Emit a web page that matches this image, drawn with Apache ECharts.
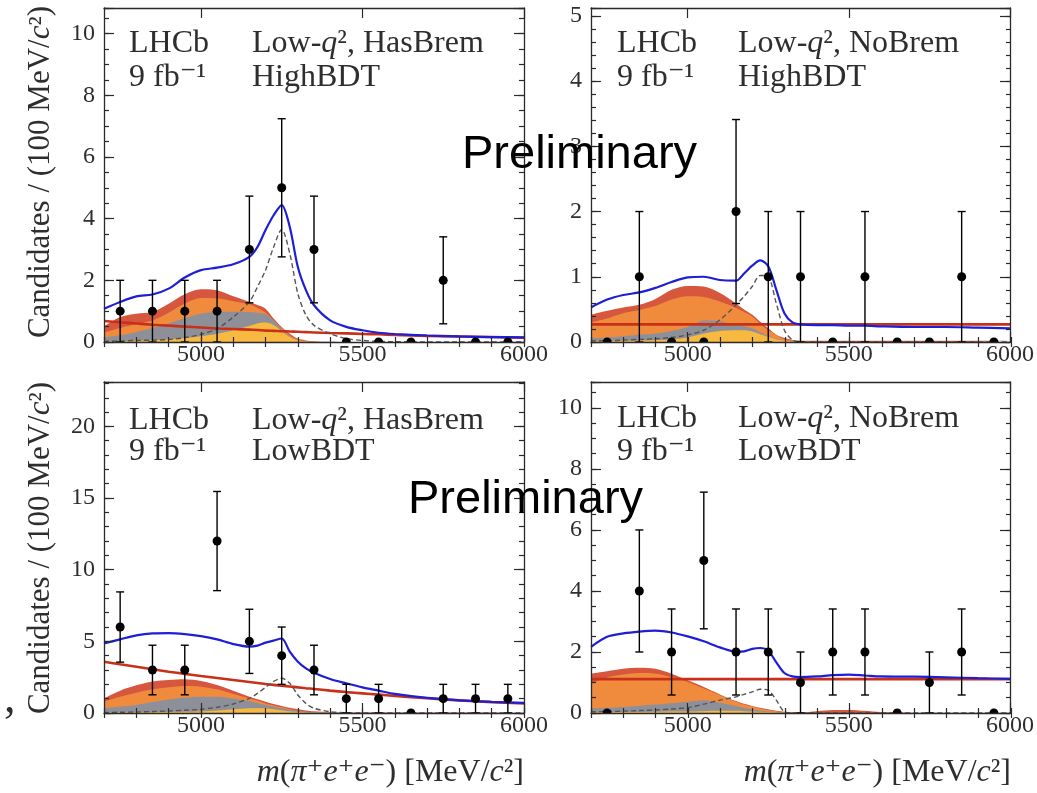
<!DOCTYPE html>
<html><head><meta charset="utf-8">
<script src="https://cdn.jsdelivr.net/npm/echarts@6/dist/echarts.min.js"></script>
<style>html,body{margin:0;padding:0;background:#fff}#c{width:1037px;height:793px}</style>
</head><body><div id="c"></div>
<script>
// ---------------- data ----------------
const binCenters = [4750,4850,4950,5050,5150,5250,5350,5450,5550,5650,5750,5850,5950];
const xTickLabels = [5000,5500,6000];

const tlCounts = [1,1,1,1,3,5,3,0,0,0,2,0,0];
const tlErr    = [1,1,1,1,1.73,2.24,1.73,0,0,0,1.41,0,0];
const trCounts = [0,1,0,0,2,1,1,0,1,0,0,1,0];
const trErr    = [0,1,0,0,1.41,1,1,0,1,0,0,1,0];
const blCounts = [6,3,3,12,5,4,3,1,1,0,1,1,1];
const blErr    = [2.45,1.73,1.73,3.46,2.24,2,1.73,1,1,0,1,1,1];
const brCounts = [0,4,2,5,2,2,1,2,2,0,1,2,0];
const brErr    = [0,2,1.41,2.24,1.41,1.41,1,1.41,1.41,0,1,1.41,0];

const curveX = [4700,4750,4800,4850,4900,4950,5000,5050,5100,5150,5175,5200,5225,5250,5275,5300,5325,5350,5400,5450,5500,5550,5600,5700,5800,5900,6000];

// top-left: Low-q2 HasBrem HighBDT
const tlTotal  = [1.08,1.30,1.48,1.54,1.73,2.09,2.33,2.41,2.52,2.76,3.08,3.63,4.11,4.44,3.73,2.43,1.68,1.19,0.70,0.49,0.38,0.30,0.26,0.21,0.18,0.16,0.15];
const tlComb   = [0.68,0.64,0.60,0.56,0.53,0.50,0.47,0.44,0.42,0.40,0.39,0.37,0.36,0.35,0.34,0.33,0.32,0.31,0.29,0.28,0.26,0.25,0.23,0.20,0.18,0.16,0.14];
const tlSignal = [0.02,0.03,0.05,0.06,0.08,0.14,0.25,0.43,0.81,1.30,1.79,2.33,3.08,3.65,2.87,1.57,0.87,0.54,0.27,0.11,0.05,0.02,0.01,0,0,0,0];
const tlYellowTop = [0.02,0.03,0.04,0.06,0.09,0.13,0.19,0.27,0.38,0.52,0.60,0.63,0.55,0.36,0.16,0.05,0.02,0.01,0,0,0,0,0,0,0,0,0];
const tlGrayTop   = [0.15,0.22,0.32,0.45,0.60,0.78,0.92,0.97,0.98,0.97,0.95,0.90,0.70,0.42,0.18,0.06,0.02,0.01,0,0,0,0,0,0,0,0,0];
const tlOrangeTop = [0.30,0.45,0.58,0.70,0.95,1.25,1.43,1.42,1.32,1.22,1.10,0.95,0.70,0.45,0.21,0.08,0.03,0.01,0,0,0,0,0,0,0,0,0];
const tlDarkTop   = [0.50,0.81,0.92,0.97,1.24,1.55,1.71,1.68,1.48,1.30,1.20,1.08,0.76,0.49,0.27,0.11,0.05,0.02,0.01,0,0,0,0,0,0,0,0];

// top-right: Low-q2 NoBrem HighBDT
const trTotal  = [0.53,0.65,0.72,0.76,0.83,0.92,0.99,1.00,0.95,0.94,1.05,1.17,1.25,1.16,0.80,0.44,0.30,0.27,0.26,0.26,0.25,0.25,0.24,0.23,0.23,0.22,0.21];
const trComb   = [0.27,0.27,0.27,0.27,0.27,0.27,0.27,0.27,0.27,0.27,0.27,0.27,0.27,0.27,0.27,0.27,0.27,0.27,0.27,0.27,0.27,0.27,0.27,0.27,0.27,0.27,0.27];
const trSignal = [0.02,0.02,0.03,0.04,0.05,0.07,0.11,0.18,0.34,0.57,0.70,0.85,1.02,1.00,0.59,0.18,0.03,0,0,0,0,0,0,0,0,0,0];
const trYellowTop = [0.02,0.02,0.02,0.02,0.03,0.04,0.07,0.13,0.17,0.18,0.18,0.16,0.12,0.08,0.04,0.02,0.01,0,0,0,0,0,0,0,0,0,0];
const trGrayTop   = [0.06,0.07,0.09,0.11,0.13,0.17,0.23,0.33,0.32,0.26,0.24,0.21,0.15,0.09,0.05,0.02,0.01,0,0,0,0,0,0,0,0,0,0];
const trOrangeTop = [0.30,0.36,0.44,0.49,0.55,0.65,0.70,0.69,0.62,0.52,0.46,0.39,0.28,0.18,0.11,0.04,0.02,0.01,0,0,0,0,0,0,0,0,0];
const trDarkTop   = [0.42,0.48,0.53,0.57,0.66,0.80,0.86,0.85,0.75,0.59,0.50,0.42,0.31,0.21,0.11,0.06,0.03,0.02,0.02,0.02,0.02,0.02,0.02,0.02,0.02,0.02,0.02];

// bottom-left: Low-q2 HasBrem LowBDT
const blTotal  = [4.86,5.14,5.42,5.56,5.58,5.51,5.37,5.14,4.81,4.63,4.70,4.91,5.05,5.20,4.28,3.58,3.12,2.81,2.37,2.07,1.79,1.56,1.33,1.05,0.88,0.78,0.70];
const blComb   = [3.58,3.40,3.23,3.05,2.88,2.73,2.58,2.44,2.30,2.16,2.09,2.02,1.96,1.90,1.85,1.79,1.73,1.68,1.56,1.46,1.37,1.28,1.19,1.03,0.88,0.76,0.66];
const blSignal = [0.04,0.05,0.07,0.10,0.14,0.19,0.26,0.40,0.63,1.02,1.37,1.79,2.20,2.42,2.07,1.26,0.67,0.33,0.09,0.02,0,0,0,0,0,0,0];
const blYellowTop = [0.05,0.05,0.05,0.06,0.07,0.08,0.10,0.17,0.26,0.33,0.34,0.33,0.27,0.20,0.12,0.07,0.04,0.02,0.01,0,0,0,0,0,0,0,0];
const blGrayTop   = [0.33,0.45,0.56,0.76,0.95,1.07,1.14,1.14,1.02,0.84,0.70,0.56,0.44,0.33,0.22,0.14,0.08,0.05,0.01,0,0,0,0,0,0,0,0];
const blOrangeTop = [0.79,1.14,1.42,1.65,1.79,1.88,1.84,1.65,1.33,1.02,0.85,0.67,0.53,0.40,0.26,0.14,0.08,0.05,0.02,0,0,0,0,0,0,0,0];
const blDarkTop   = [1.02,1.56,1.93,2.19,2.30,2.35,2.23,1.95,1.56,1.14,0.96,0.79,0.63,0.49,0.36,0.26,0.18,0.12,0.06,0.04,0.04,0.04,0.04,0.03,0.03,0.03,0.03];

// bottom-right: Low-q2 NoBrem LowBDT
const brTotal  = [2.17,2.50,2.61,2.67,2.70,2.64,2.51,2.35,2.15,2.01,2.02,2.10,2.13,2.04,1.66,1.31,1.20,1.18,1.20,1.24,1.26,1.23,1.20,1.19,1.17,1.14,1.12];
const brComb   = [1.11,1.11,1.11,1.11,1.11,1.11,1.11,1.11,1.11,1.11,1.11,1.11,1.11,1.11,1.11,1.11,1.11,1.11,1.11,1.11,1.11,1.11,1.11,1.11,1.11,1.11,1.11];
const brSignal = [0.04,0.05,0.06,0.08,0.10,0.13,0.18,0.29,0.42,0.53,0.61,0.69,0.78,0.75,0.42,0.04,0,0,0,0,0,0,0,0,0,0,0];
const brYellowTop = [0.03,0.03,0.03,0.03,0.04,0.05,0.05,0.06,0.07,0.07,0.06,0.05,0.04,0.03,0.02,0.01,0,0,0,0,0,0,0,0,0,0,0];
const brGrayTop   = [0.15,0.17,0.20,0.24,0.28,0.32,0.37,0.42,0.34,0.23,0.17,0.12,0.08,0.05,0.03,0.01,0,0,0,0,0,0,0,0,0,0,0];
const brOrangeTop = [0.96,1.16,1.26,1.31,1.29,1.18,1.02,0.80,0.58,0.37,0.28,0.21,0.15,0.10,0.06,0.03,0.01,0,0,0,0,0,0,0,0,0,0];
const brDarkTop   = [1.29,1.37,1.45,1.48,1.45,1.29,1.07,0.85,0.61,0.39,0.30,0.23,0.17,0.12,0.07,0.04,0.03,0.02,0.06,0.10,0.10,0.07,0.03,0.01,0.01,0.01,0.01];

// ---------------- styling ----------------
const SERIF = '"Liberation Serif", "DejaVu Serif", serif';
const SANS = '"Liberation Sans", Arial, sans-serif';
const TXT = '#2e2e2e';
const FRAME = '#2a2a2a';
const COL = {dark:'#d6573d', orange:'#f08b3d', gray:'#8e9099', yellow:'#f8b940', comb:'#c9301a', total:'#1e1ed6', sig:'#555555', data:'#000000'};

const panels = [
  {rect:{left:104, top:8,   width:420, height:334}, ymax:10.83, major:2, minor:0.5,
   counts:tlCounts, errs:tlErr, total:tlTotal, comb:tlComb, sig:tlSignal, yellow:tlYellowTop, gray:tlGrayTop, orange:tlOrangeTop, dark:tlDarkTop},
  {rect:{left:591, top:8,   width:420, height:334}, ymax:5.12, major:1, minor:0.2,
   counts:trCounts, errs:trErr, total:trTotal, comb:trComb, sig:trSignal, yellow:trYellowTop, gray:trGrayTop, orange:trOrangeTop, dark:trDarkTop},
  {rect:{left:104, top:382, width:420, height:331}, ymax:23.1, major:5, minor:1,
   counts:blCounts, errs:blErr, total:blTotal, comb:blComb, sig:blSignal, yellow:blYellowTop, gray:blGrayTop, orange:blOrangeTop, dark:blDarkTop},
  {rect:{left:591, top:382, width:420, height:331}, ymax:10.85, major:2, minor:0.5,
   counts:brCounts, errs:brErr, total:brTotal, comb:brComb, sig:brSignal, yellow:brYellowTop, gray:brGrayTop, orange:brOrangeTop, dark:brDarkTop}
];

const grids = [], xAxes = [], yAxes = [], series = [];
const isMult = (v, m) => Math.abs(v / m - Math.round(v / m)) < 1e-6;
const pts = arr => curveX.map((x, i) => [x, arr[i]]);

// data point with symmetric error bar, clipped to the plot frame
function pointRender(params, api) {
  const x = api.value(0), y = api.value(1), e = api.value(2);
  const c = api.coord([x, y]);
  const st = {stroke: COL.data, lineWidth: 1.4};
  const kids = [];
  if (e > 0) {
    const lo = api.coord([x, y - e]), hi = api.coord([x, y + e]);
    const cap = 4;
    kids.push(
      {type:'line', shape:{x1:lo[0], y1:lo[1], x2:hi[0], y2:hi[1]}, style:st},
      {type:'line', shape:{x1:hi[0]-cap, y1:hi[1], x2:hi[0]+cap, y2:hi[1]}, style:st},
      {type:'line', shape:{x1:lo[0]-cap, y1:lo[1], x2:lo[0]+cap, y2:lo[1]}, style:st});
  }
  kids.push({type:'circle', shape:{cx:c[0], cy:c[1], r:4.5}, style:{fill: COL.data}});
  return {type:'group', children:kids};
}

panels.forEach((p, i) => {
  const gA = 2*i, gB = 2*i + 1;
  grids.push(Object.assign({show:false}, p.rect));
  grids.push(Object.assign({show:false}, p.rect));
  const lineSt = {color: FRAME, width: 1.3};
  const tickSt = {color: FRAME, width: 1.2};
  const xBase = {type:'value', min:4700, max:6000, interval:100, z:10, splitLine:{show:false}};
  xAxes.push(
    Object.assign({}, xBase, {gridIndex:gA, position:'bottom',
      axisLine:{show:true, onZero:false, lineStyle:lineSt},
      axisTick:{show:true, inside:true, length:10, customValues:xTickLabels, lineStyle:tickSt},
      axisLabel:{show:true, customValues:xTickLabels, margin:1, fontSize:24, fontFamily:SERIF, color:TXT,
        formatter: v => (isMult(v, 500) ? String(v) : '')}}),
    Object.assign({}, xBase, {gridIndex:gA, position:'top',
      axisLine:{show:true, onZero:false, lineStyle:lineSt},
      axisTick:{show:true, inside:true, length:10, customValues:xTickLabels, lineStyle:tickSt},
      axisLabel:{show:false}}),
    Object.assign({}, xBase, {gridIndex:gB, position:'bottom',
      axisLine:{show:false}, axisTick:{show:true, inside:true, length:5, lineStyle:tickSt}, axisLabel:{show:false}}),
    Object.assign({}, xBase, {gridIndex:gB, position:'top',
      axisLine:{show:false}, axisTick:{show:true, inside:true, length:5, lineStyle:tickSt}, axisLabel:{show:false}})
  );
  const yBase = {type:'value', min:0, max:p.ymax, z:10, splitLine:{show:false}};
  yAxes.push(
    Object.assign({}, yBase, {gridIndex:gA, position:'left', interval:p.major,
      axisLine:{show:true, onZero:false, lineStyle:lineSt},
      axisTick:{show:true, inside:true, length:10, lineStyle:tickSt},
      axisLabel:{show:true, margin:9, fontSize:24, fontFamily:SERIF, color:TXT,
        formatter: v => (isMult(v, p.major) ? String(Math.round(v)) : '')}}),
    Object.assign({}, yBase, {gridIndex:gA, position:'right', interval:p.major,
      axisLine:{show:true, onZero:false, lineStyle:lineSt},
      axisTick:{show:true, inside:true, length:10, lineStyle:tickSt}, axisLabel:{show:false}}),
    Object.assign({}, yBase, {gridIndex:gB, position:'left', interval:p.minor,
      axisLine:{show:false}, axisTick:{show:true, inside:true, length:5, lineStyle:tickSt}, axisLabel:{show:false}}),
    Object.assign({}, yBase, {gridIndex:gB, position:'right', interval:p.minor,
      axisLine:{show:false}, axisTick:{show:true, inside:true, length:5, lineStyle:tickSt}, axisLabel:{show:false}})
  );
  const ax = {xAxisIndex: 4*i, yAxisIndex: 4*i};
  const area = (arr, c) => Object.assign({type:'line', data:pts(arr), smooth:0.3, symbol:'none',
    lineStyle:{width:0, color:c}, areaStyle:{color:c, opacity:1}, silent:true, z:2}, ax);
  const curve = (arr, c, w, dash) => Object.assign({type:'line', data:pts(arr), smooth:0.3, symbol:'none',
    lineStyle:{width:w, color:c, type: dash ? [5,3] : 'solid'}, silent:true, z:3}, ax);
  series.push(
    area(p.dark, COL.dark), area(p.orange, COL.orange), area(p.gray, COL.gray), area(p.yellow, COL.yellow),
    curve(p.comb, COL.comb, 2.6, false),
    curve(p.sig, COL.sig, 1.4, true),
    curve(p.total, COL.total, 2.2, false),
    Object.assign({type:'custom', renderItem:pointRender, clip:true,
      data:binCenters.map((x, k) => [x, p.counts[k], p.errs[k]]), z:5, silent:true}, ax)
  );
});

// ---------------- texts ----------------
const richIt = size => ({i:{fontStyle:'italic', fontSize:size, fontFamily:SERIF, fill:TXT}});
function txt(x, y, text, size, opts) {
  return Object.assign({type:'text', x:x, y:y, z:100, silent:true,
    style:{text:text, fontSize:size, fontFamily:SERIF, fill:TXT, align:'left', verticalAlign:'middle', rich:richIt(size)}}, opts || {});
}
const panelTexts = [
  {x1:129, x2:252, y1:44,  y2:78,  a:'Low-{i|q}², HasBrem', b:'HighBDT'},
  {x1:617, x2:738, y1:44,  y2:78,  a:'Low-{i|q}², NoBrem',  b:'HighBDT'},
  {x1:129, x2:252, y1:421, y2:452, a:'Low-{i|q}², HasBrem', b:'LowBDT'},
  {x1:617, x2:738, y1:419, y2:452, a:'Low-{i|q}², NoBrem',  b:'LowBDT'}
];
const graphic = [];
panelTexts.forEach(t => {
  graphic.push(txt(t.x1, t.y1, 'LHCb', 32), txt(t.x2, t.y1, t.a, 32), txt(t.x1, t.y2, '9 fb⁻¹', 32), txt(t.x2, t.y2, t.b, 32));
});
const yTitle = 'Candidates / (100 MeV/{i|c}²)';
const yt1 = txt(41, 172, yTitle, 31); yt1.rotation = Math.PI/2; yt1.style.align = 'center';
const yt2 = txt(41, 548, yTitle, 31); yt2.rotation = Math.PI/2; yt2.style.align = 'center';
graphic.push(yt1, yt2);
const xTitle = '{i|m}({i|π}⁺{i|e}⁺{i|e}⁻) [MeV/{i|c}²]';
const xt1 = txt(524, 773, xTitle, 32); xt1.style.align = 'right';
const xt2 = txt(1011, 773, xTitle, 32); xt2.style.align = 'right';
graphic.push(xt1, xt2);
graphic.push(txt(4, 700, ',', 46));
graphic.push(
  {type:'text', x:462, y:155, z:120, silent:true, style:{text:'Preliminary', fontSize:47, fontFamily:SANS, fill:'#000', align:'left', verticalAlign:'middle'}},
  {type:'text', x:408, y:500, z:120, silent:true, style:{text:'Preliminary', fontSize:47, fontFamily:SANS, fill:'#000', align:'left', verticalAlign:'middle'}}
);

const chart = echarts.init(document.getElementById('c'), null, {renderer:'canvas'});
chart.setOption({
  backgroundColor:'#ffffff',
  animation:false,
  grid:grids, xAxis:xAxes, yAxis:yAxes, series:series, graphic:graphic
});
</script></body></html>
